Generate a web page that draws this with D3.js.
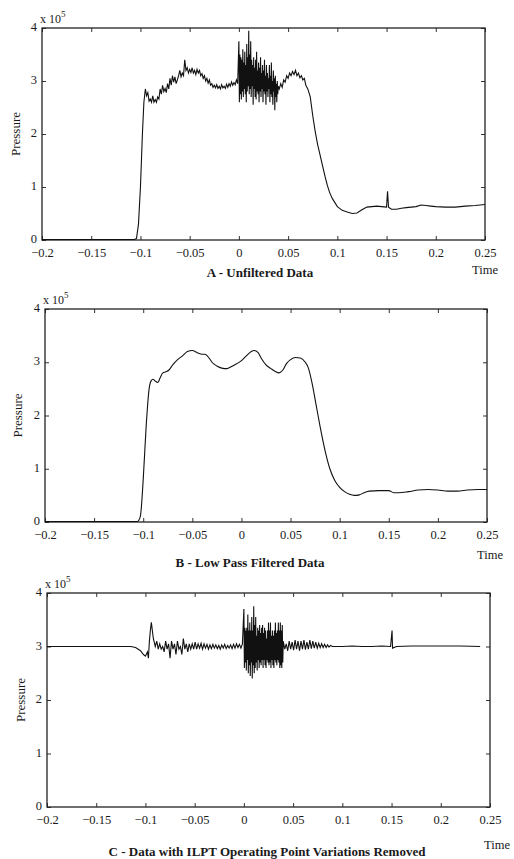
<!DOCTYPE html>
<html>
<head>
<meta charset="utf-8">
<script src="https://cdn.jsdelivr.net/npm/d3@7"></script>
<style>
  body { margin: 0; background: #fff; }
  svg { display: block; }
  text { font-family: "Liberation Serif", "DejaVu Serif", serif; fill: #1a1a1a; }
</style>
</head>
<body>
<svg id="chart"></svg>
<script>
// tick values shared by all three panels
var xTicks = [-0.2, -0.15, -0.1, -0.05, 0, 0.05, 0.1, 0.15, 0.2, 0.25];
var yTicks = [0, 1, 2, 3, 4];

// sample times of the dense burst just after t = 0 (same for A and C)
var burstTime = [0, 0.0005, 0.001, 0.0015, 0.002, 0.0025, 0.003, 0.0035, 0.004, 0.0045,
  0.005, 0.0055, 0.006, 0.0065, 0.007, 0.0075, 0.008, 0.0085, 0.009, 0.0095,
  0.01, 0.0105, 0.011, 0.0115, 0.012, 0.0125, 0.013, 0.0135, 0.014, 0.0145,
  0.015, 0.0155, 0.016, 0.0165, 0.017, 0.0175, 0.018, 0.0185, 0.019, 0.0195,
  0.02, 0.0205, 0.021, 0.0215, 0.022, 0.0225, 0.023, 0.0235, 0.024, 0.0245,
  0.025, 0.0255, 0.026, 0.0265, 0.027, 0.0275, 0.028, 0.0285, 0.029, 0.0295,
  0.03, 0.0305, 0.031, 0.0315, 0.032, 0.0325, 0.033, 0.0335, 0.034, 0.0345,
  0.035, 0.0355, 0.036, 0.0365, 0.037, 0.0375, 0.038, 0.0385, 0.039, 0.0395, 0.04];

// A - unfiltered pressure (x 10^5)
var timeA1 = [-0.2, -0.15, -0.12, -0.106, -0.104, -0.102, -0.1, -0.098, -0.0965,
  -0.095, -0.09375, -0.0925, -0.09125, -0.09, -0.08875, -0.0875, -0.08625, -0.085, -0.08375,
  -0.0825, -0.08125, -0.08, -0.07875, -0.0775, -0.07625, -0.075, -0.07375, -0.0725, -0.07125,
  -0.07, -0.06875, -0.0675, -0.06625, -0.065, -0.06375, -0.0625, -0.06125, -0.06, -0.05875,
  -0.0575, -0.05625, -0.055, -0.05375, -0.0525, -0.05125, -0.05, -0.04875, -0.0475, -0.04625,
  -0.045, -0.04375, -0.0425, -0.04125, -0.04, -0.03875, -0.0375, -0.03625, -0.035, -0.03375,
  -0.0325, -0.03125, -0.03, -0.02875, -0.0275, -0.02625, -0.025, -0.02375, -0.0225, -0.02125,
  -0.02, -0.01875, -0.0175, -0.01625, -0.015, -0.01375, -0.0125, -0.01125, -0.01, -0.00875,
  -0.0075, -0.00625, -0.005, -0.00375, -0.0025, -0.00125];
var presA1 = [0.01, 0.01, 0.01, 0.01, 0.03, 0.3, 1.0, 2.0, 2.6,
  2.85, 2.72, 2.78, 2.62, 2.66, 2.6, 2.72, 2.6, 2.65, 2.6,
  2.7, 2.66, 2.85, 2.75, 2.92, 2.8, 2.86, 2.78, 2.95, 2.85,
  3.05, 2.92, 3.1, 2.98, 3.08, 2.95, 3.02, 3.1, 3.2, 3.08,
  3.15, 3.1, 3.4, 3.2, 3.25, 3.15, 3.22, 3.16, 3.25, 3.15,
  3.2, 3.12, 3.22, 3.15, 3.2, 3.1, 3.14, 3.05, 3.1, 3.0,
  3.05, 2.96, 3.02, 2.92, 2.95, 2.88, 2.92, 2.87, 2.93, 2.86,
  2.9, 2.85, 2.93, 2.87, 2.9, 2.86, 2.94, 2.88, 2.95, 2.9,
  2.98, 2.92, 2.97, 2.93, 3.02, 2.95];
var burstA = [3.75, 2.6, 3.5, 2.75, 3.45, 2.65, 3.4, 2.8, 3.6, 2.7,
  3.35, 2.85, 3.55, 2.75, 3.3, 2.6, 3.7, 2.8, 3.45, 2.9,
  3.95, 2.75, 3.5, 2.85, 3.75, 2.7, 3.4, 2.9, 3.3, 2.55,
  3.45, 2.85, 3.25, 2.7, 3.4, 2.65, 3.55, 2.8, 3.2, 2.75,
  3.35, 2.6, 3.25, 2.8, 3.45, 2.7, 3.15, 2.85, 3.3, 2.6,
  3.2, 2.8, 3.4, 2.75, 3.1, 2.55, 3.3, 2.8, 3.15, 2.7,
  3.05, 2.85, 3.3, 2.6, 3.1, 2.75, 3.35, 2.7, 3.0, 2.55,
  3.2, 2.8, 3.05, 2.45, 3.1, 2.7, 2.95, 2.6, 3.0, 2.75, 2.9];
var timeA2 = [0.041, 0.0425, 0.044, 0.0455, 0.047, 0.0485, 0.05, 0.0515, 0.053, 0.0545,
  0.056, 0.0575, 0.059, 0.0605, 0.062, 0.0635, 0.065, 0.0665, 0.068,
  0.07, 0.0725, 0.075, 0.0775, 0.08, 0.0825, 0.085, 0.0875, 0.09, 0.0925, 0.095, 0.1,
  0.105, 0.11, 0.115, 0.12, 0.125, 0.13, 0.135, 0.14, 0.145, 0.15, 0.151, 0.152, 0.155,
  0.16, 0.165, 0.17, 0.175, 0.18, 0.185, 0.19, 0.195, 0.2, 0.21, 0.22, 0.23, 0.24, 0.25];
var presA2 = [2.85, 2.95, 2.88, 3.02, 2.98, 3.1, 3.05, 3.15, 3.1, 3.18,
  3.12, 3.2, 3.1, 3.15, 3.06, 3.1, 3.02, 3.05, 2.92,
  2.85, 2.7, 2.35, 2.05, 1.8, 1.6, 1.4, 1.2, 1.02, 0.88, 0.78, 0.63,
  0.56, 0.53, 0.5, 0.51, 0.57, 0.62, 0.63, 0.64, 0.63, 0.62, 0.92, 0.62, 0.58,
  0.58, 0.6, 0.61, 0.62, 0.63, 0.66, 0.65, 0.64, 0.63, 0.62, 0.62, 0.64, 0.65, 0.67];

// B - low pass filtered
var timeB = [-0.2, -0.15, -0.12, -0.106, -0.103, -0.1, -0.097, -0.094, -0.092, -0.09,
  -0.088, -0.085, -0.083, -0.08, -0.077, -0.074, -0.07, -0.065, -0.06, -0.055, -0.05,
  -0.045, -0.04, -0.037, -0.033, -0.03, -0.025, -0.02, -0.015, -0.01, -0.005, 0,
  0.005, 0.01, 0.013, 0.017, 0.02, 0.025, 0.03, 0.035, 0.038, 0.042, 0.046, 0.05,
  0.055, 0.06, 0.065, 0.068, 0.072, 0.076, 0.08, 0.085, 0.09, 0.095, 0.1, 0.105,
  0.11, 0.115, 0.12, 0.125, 0.13, 0.14, 0.15, 0.155, 0.16, 0.17, 0.18, 0.19, 0.2,
  0.21, 0.22, 0.23, 0.24, 0.25];
var presB = [0.01, 0.01, 0.01, 0.01, 0.1, 0.8, 1.8, 2.5, 2.65, 2.68,
  2.65, 2.62, 2.7, 2.8, 2.82, 2.85, 2.95, 3.05, 3.12, 3.2, 3.22,
  3.18, 3.15, 3.15, 3.08, 3.0, 2.93, 2.89, 2.88, 2.92, 2.97, 3.03,
  3.12, 3.2, 3.22, 3.18, 3.08, 2.95, 2.88, 2.82, 2.8, 2.85, 2.98, 3.05,
  3.09, 3.08, 3.0, 2.9, 2.6, 2.2, 1.8, 1.35, 1.0, 0.78, 0.65, 0.57,
  0.52, 0.5, 0.51, 0.55, 0.58, 0.59, 0.59, 0.55, 0.55, 0.57, 0.6, 0.61, 0.6,
  0.58, 0.58, 0.6, 0.61, 0.61];

// C - operating point variations removed
var timeC1 = [-0.2, -0.15, -0.115, -0.11, -0.105, -0.102, -0.1, -0.098, -0.097, -0.096,
  -0.095, -0.094, -0.093, -0.092, -0.09, -0.0885, -0.087, -0.0855, -0.084, -0.0825,
  -0.081, -0.0795, -0.078, -0.0765, -0.075, -0.0735, -0.072, -0.0705, -0.069, -0.0675,
  -0.066, -0.0645, -0.063, -0.0615, -0.06, -0.0585, -0.057, -0.0555, -0.054, -0.0525,
  -0.051, -0.0495, -0.048, -0.0465, -0.045, -0.0435, -0.042, -0.0405, -0.039, -0.0375,
  -0.036, -0.0345, -0.033, -0.0315, -0.03, -0.0285, -0.027, -0.0255, -0.024, -0.0225,
  -0.021, -0.0195, -0.018, -0.0165, -0.015, -0.0135, -0.012, -0.0105, -0.009, -0.0075,
  -0.006, -0.0045, -0.003, -0.0015];
var presC1 = [3.0, 3.0, 3.0, 2.98, 2.92, 2.85, 2.82, 2.9, 2.78, 3.1,
  3.3, 3.45, 3.3, 3.15, 3.0, 3.1, 2.95, 3.05, 2.95, 3.0,
  2.9, 3.1, 2.95, 3.05, 2.78, 3.1, 2.95, 3.05, 2.85, 3.1,
  2.95, 3.0, 2.85, 3.15, 2.95, 3.05, 2.9, 3.05, 2.95, 3.05,
  2.95, 3.08, 2.95, 3.05, 2.97, 3.06, 2.95, 3.05, 2.97, 3.04,
  2.95, 3.03, 2.96, 3.04, 2.97, 3.03, 2.96, 3.02, 2.95, 3.03,
  2.97, 3.04, 2.96, 3.02, 2.97, 3.03, 2.96, 3.04, 2.97, 3.05,
  2.98, 3.04, 2.97, 3.05];
var burstC = [3.7, 2.6, 3.35, 2.7, 3.3, 2.55, 3.35, 2.75, 3.6, 2.5,
  3.3, 2.65, 3.45, 2.45, 3.3, 2.7, 3.55, 2.4, 3.3, 2.65,
  3.75, 2.5, 3.4, 2.6, 3.55, 2.7, 3.2, 2.55, 3.35, 2.75,
  3.3, 2.6, 3.4, 2.7, 3.25, 2.65, 3.35, 2.75, 3.4, 2.6,
  3.25, 2.75, 3.35, 2.65, 3.3, 2.6, 3.15, 2.75, 3.3, 2.7,
  3.45, 2.65, 3.3, 2.7, 3.45, 2.6, 3.2, 2.75, 3.3, 2.65,
  3.2, 2.6, 3.3, 2.75, 3.45, 2.7, 3.25, 2.65, 3.3, 2.75,
  3.45, 2.7, 3.3, 2.6, 3.45, 2.65, 3.3, 2.6, 3.4, 2.7, 3.1];
var timeC2 = [0.0415, 0.043, 0.0445, 0.046, 0.0475, 0.049, 0.0505, 0.052, 0.0535, 0.055,
  0.0565, 0.058, 0.0595, 0.061, 0.0625, 0.064, 0.0655, 0.067, 0.0685, 0.07,
  0.0715, 0.073, 0.0745, 0.076, 0.0775, 0.079, 0.0805, 0.082, 0.0835, 0.085,
  0.0865, 0.088, 0.09, 0.1, 0.11, 0.12, 0.13, 0.14, 0.149, 0.1505, 0.151, 0.155,
  0.17, 0.2, 0.22, 0.24];
var presC2 = [2.95, 3.05, 2.92, 3.1, 2.95, 3.08, 2.93, 3.12, 2.95, 3.1,
  2.92, 3.1, 2.95, 3.12, 2.94, 3.08, 2.95, 3.12, 2.96, 3.1,
  2.97, 3.08, 2.97, 3.06, 2.98, 3.05, 2.98, 3.04, 2.98, 3.03,
  2.99, 3.02, 3.0, 3.0, 3.01, 3.0, 3.0, 3.01, 3.0, 3.3, 2.97, 3.0,
  3.01, 3.01, 3.01, 3.0];

var titles = ["A - Unfiltered Data", "B - Low Pass Filtered Data",
  "C - Data with ILPT Operating Point Variations Removed"];

// frame layout of each panel on the page
var panels = [
  { time: timeA1.concat(burstTime, timeA2), pres: presA1.concat(burstA, presA2),
    left: 42, right: 485, top: 28, bottom: 240,
    titleX: 260, titleY: 37, timeX: 485, timeY: 34, labX: 20, smooth: false },
  { time: timeB, pres: presB,
    left: 45, right: 487, top: 309, bottom: 522,
    titleX: 250, titleY: 45, timeX: 490, timeY: 37, labX: 22, smooth: true },
  { time: timeC1.concat(burstTime, timeC2), pres: presC1.concat(burstC, presC2),
    left: 47, right: 490, top: 593, bottom: 807,
    titleX: 267, titleY: 49, timeX: 497, timeY: 42, labX: 25, smooth: false }
];

var svg = d3.select("#chart").attr("width", 514).attr("height", 859);
var fmt = d3.format("~g");

panels.forEach(function(p, i) {
  var x = d3.scaleLinear().domain([-0.2, 0.25]).range([p.left, p.right]);
  var y = d3.scaleLinear().domain([0, 4]).range([p.bottom, p.top]);
  var g = svg.append("g");

  // inward ticks on all four sides, MATLAB style
  var bottomAxis = d3.axisBottom(x).tickValues(xTicks).tickSize(-4).tickFormat(fmt);
  var topAxis = d3.axisTop(x).tickValues(xTicks).tickSize(-4).tickFormat("");
  var leftAxis = d3.axisLeft(y).tickValues(yTicks).tickSize(-4).tickFormat(fmt);
  var rightAxis = d3.axisRight(y).tickValues(yTicks).tickSize(-4).tickFormat("");

  var gb = g.append("g").attr("transform", "translate(0," + p.bottom + ")").call(bottomAxis);
  g.append("g").attr("transform", "translate(0," + p.top + ")").call(topAxis);
  var gl = g.append("g").attr("transform", "translate(" + p.left + ",0)").call(leftAxis);
  g.append("g").attr("transform", "translate(" + p.right + ",0)").call(rightAxis);

  g.selectAll(".domain").remove();
  g.selectAll(".tick line").attr("stroke", "#333").attr("stroke-width", 1);
  gb.selectAll(".tick text").attr("y", 8).attr("font-size", 12.5)
    .style("font-family", "Liberation Serif").attr("fill", "#1a1a1a");
  gl.selectAll(".tick text").attr("x", -5).attr("dy", "0.2em").attr("font-size", 12.5)
    .style("font-family", "Liberation Serif").attr("fill", "#1a1a1a");

  g.append("rect")
    .attr("x", p.left).attr("y", p.top)
    .attr("width", p.right - p.left).attr("height", p.bottom - p.top)
    .attr("fill", "none").attr("stroke", "#222").attr("stroke-width", 1.3);

  var pts = p.time.map(function(t, k) { return [t, p.pres[k]]; });
  var line = d3.line()
    .x(function(d) { return x(d[0]); })
    .y(function(d) { return y(d[1]); })
    .curve(p.smooth ? d3.curveMonotoneX : d3.curveLinear);

  g.append("path").datum(pts)
    .attr("d", line)
    .attr("fill", "none").attr("stroke", "#111").attr("stroke-width", 1.1);

  // x 10^5 multiplier
  var ex = g.append("text").attr("x", p.left - 2).attr("y", p.top - 5).attr("font-size", 12);
  ex.append("tspan").text("x 10");
  ex.append("tspan").attr("dy", -6).attr("font-size", 9).text("5");

  g.append("text")
    .attr("transform", "translate(" + p.labX + "," + ((p.top + p.bottom) / 2) + ") rotate(-90)")
    .attr("text-anchor", "middle").attr("font-size", 13).text("Pressure");

  g.append("text")
    .attr("x", p.timeX).attr("y", p.bottom + p.timeY)
    .attr("text-anchor", "middle").attr("font-size", 12.5).text("Time");

  g.append("text")
    .attr("x", p.titleX).attr("y", p.bottom + p.titleY)
    .attr("text-anchor", "middle").attr("font-size", 13).attr("font-weight", "bold")
    .text(titles[i]);
});
</script>
</body>
</html>
